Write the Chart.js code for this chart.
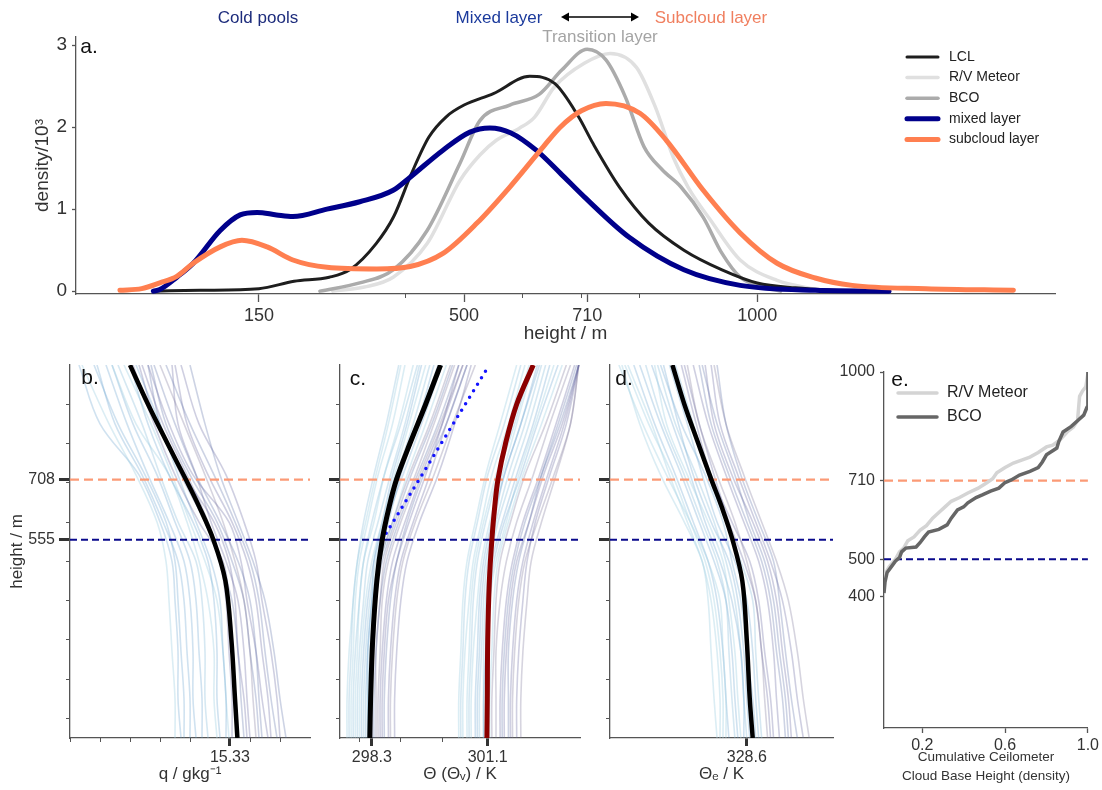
<!DOCTYPE html>
<html lang="en">
<head>
<meta charset="UTF-8">
<title>Cloud base and boundary layer heights</title>
<script src="https://cdn.jsdelivr.net/npm/chart.js"></script>
<style>
  body { margin: 0; background: #fff; font-family: 'Liberation Sans', Arial, sans-serif; }
  #figure { position: relative; width: 1102px; height: 790px; overflow: hidden; background: #fff; }
  #figure canvas { position: absolute; }
  .note { position: absolute; font-size: 17px; white-space: nowrap; transform: translate(-50%, -50%); z-index: 5; }
  .tag { position: absolute; font-size: 21px; color: #111; transform: translate(-50%, -50%); z-index: 5; }
  #arrow { position: absolute; left: 558px; top: 9px; z-index: 5; }
</style>
</head>
<body>
<div id="figure">
  <canvas id="densityChart" width="1102" height="345" style="left:0;top:0"></canvas>
  <canvas id="qChart" width="325" height="450" style="left:0;top:340px"></canvas>
  <canvas id="thetaChart" width="325" height="450" style="left:270px;top:340px"></canvas>
  <canvas id="thetaEChart" width="310" height="450" style="left:540px;top:340px"></canvas>
  <canvas id="cbhChart" width="288" height="450" style="left:814px;top:340px"></canvas>

  <div class="note" style="left:258px;top:18px;color:#1d2c7c">Cold pools</div>
  <div class="note" style="left:499px;top:18px;color:#1b3a9c">Mixed layer</div>
  <svg id="arrow" width="84" height="16">
    <line x1="6" y1="8" x2="78" y2="8" stroke="#000" stroke-width="1.5"/>
    <polygon points="3,8 11,3.5 11,12.5" fill="#000"/>
    <polygon points="81,8 73,3.5 73,12.5" fill="#000"/>
  </svg>
  <div class="note" style="left:711px;top:18px;color:#f07f5f">Subcloud layer</div>
  <div class="note" style="left:600px;top:37px;color:#a4a4a4">Transition layer</div>

  <div class="tag" style="left:89px;top:46px">a.</div>
  <div class="tag" style="left:90px;top:377px">b.</div>
  <div class="tag" style="left:358px;top:378px">c.</div>
  <div class="tag" style="left:624px;top:378px">d.</div>
  <div class="tag" style="left:900px;top:379px">e.</div>
</div>

<script>
const FONT = "'Liberation Sans', Arial, sans-serif";
Chart.defaults.font.family = FONT;
Chart.defaults.color = '#333';

// ---------- a. density of LCL / cloud base / layer tops (heights in m, density x 1e3)
const lclHeight     = [-30, 50, 150, 210, 270, 305, 350, 380, 410, 440, 470, 500, 550, 612, 655, 695, 720, 765, 815, 875, 940, 1000, 1065, 1160];
const lclDensity    = [0, 0.01, 0.03, 0.12, 0.17, 0.26, 0.58, 0.91, 1.43, 1.88, 2.13, 2.27, 2.41, 2.62, 2.53, 2.13, 1.8, 1.27, 0.83, 0.5, 0.26, 0.1, 0.04, 0.0];
const meteorHeight  = [276, 330, 379, 437, 493, 527, 555, 595, 620, 654, 705, 749, 794, 826, 857, 882, 920, 971, 1034, 1100];
const meteorDensity = [0, 0.05, 0.17, 0.58, 1.35, 1.66, 1.84, 1.99, 2.12, 2.49, 2.78, 2.9, 2.73, 2.25, 1.63, 1.27, 0.87, 0.38, 0.13, 0.02];
const bcoHeight     = [254, 322, 379, 437, 493, 527, 578, 628, 667, 710, 742, 775, 807, 838, 870, 908, 940, 971, 1010, 1040];
const bcoDensity    = [0, 0.1, 0.26, 0.74, 1.56, 2.08, 2.27, 2.4, 2.7, 2.95, 2.82, 2.37, 1.76, 1.48, 1.27, 0.9, 0.46, 0.17, 0.05, 0];
const mixedHeight   = [-30, -19, 10, 38, 84, 118, 147, 180, 208, 266, 322, 379, 408, 464, 510, 544, 580, 623, 664, 705, 781, 875, 971, 1099, 1225];
const mixedDensity  = [0, 0.02, 0.17, 0.34, 0.74, 0.93, 0.96, 0.93, 0.91, 1.0, 1.09, 1.23, 1.39, 1.72, 1.94, 1.99, 1.93, 1.72, 1.44, 1.15, 0.66, 0.26, 0.07, 0.01, 0];
const subHeight     = [-87, -50, -19, 10, 38, 84, 121, 164, 208, 266, 351, 408, 464, 522, 578, 635, 664, 700, 742, 800, 845, 908, 971, 1034, 1099, 1162, 1288, 1437];
const subDensity    = [0.01, 0.03, 0.1, 0.18, 0.34, 0.54, 0.62, 0.54, 0.38, 0.29, 0.27, 0.3, 0.46, 0.83, 1.27, 1.76, 2.0, 2.2, 2.29, 2.17, 1.84, 1.23, 0.71, 0.34, 0.16, 0.07, 0.03, 0.01];
const heightTicks   = [150, 500, 710, 1000];
const heightMinor   = [400, 600, 700, 800];
const densityTicks  = [0, 1, 2, 3];

// ---------- b.-d. sounding profiles
const SUBCLOUD_TOP = 708;
const MIXED_TOP = 555;
const profileHeight = [50, 150, 270, 400, 500, 600, 720, 850, 1000];
const meanHeight = [50, 150, 300, 450, 555, 640, 710, 800, 900, 1000];
const heightMinorTicks = [100, 200, 300, 400, 500, 600, 700, 800, 900];

const qMean = [15.58, 15.5, 15.38, 15.18, 14.78, 14.3, 13.85, 13.25, 12.6, 12.0];
const qProfiles = [
  [14.6, 14.5, 14.5, 14.4, 14.2, 13.6, 13.0, 12.4, 11.6],
  [15.0, 14.9, 14.9, 14.8, 14.6, 14.1, 13.3, 12.6, 12.0],
  [16.4, 16.3, 16.2, 16.0, 15.6, 15.0, 14.2, 13.5, 12.8],
  [15.4, 15.4, 15.3, 15.2, 15.0, 14.6, 13.9, 13.1, 12.4],
  [13.8, 13.8, 13.7, 13.6, 13.5, 13.2, 12.5, 11.6, 10.8],
  [16.9, 16.7, 16.5, 16.3, 16.0, 15.5, 14.8, 14.0, 13.2],
  [15.9, 15.8, 15.6, 15.5, 15.3, 14.8, 13.8, 12.9, 12.3],
  [14.2, 14.1, 14.1, 14.0, 13.8, 13.3, 12.6, 11.9, 11.2],
  [17.2, 17.0, 16.8, 16.5, 16.1, 15.6, 15.0, 14.5, 14.0],
  [15.6, 15.5, 15.4, 15.3, 15.1, 14.3, 13.5, 12.8, 12.1],
  [16.2, 16.1, 16.0, 15.8, 15.5, 15.1, 14.5, 13.8, 13.0],
  [14.9, 14.8, 14.8, 14.6, 14.3, 13.9, 13.3, 12.2, 11.4],
  [16.6, 16.4, 16.2, 15.9, 15.7, 15.3, 14.1, 13.3, 12.6],
  [15.2, 15.2, 15.1, 15.0, 14.7, 14.2, 13.6, 13.0, 12.2],
  [13.5, 13.5, 13.4, 13.3, 13.2, 12.9, 12.2, 11.3, 10.4],
  [16.0, 15.9, 15.8, 15.6, 15.2, 14.7, 14.2, 13.6, 13.4],
  [14.0, 14.0, 13.9, 13.8, 13.6, 13.1, 12.4, 11.5, 10.9],
  [15.8, 15.7, 15.6, 15.4, 15.0, 14.5, 13.7, 13.0, 12.6],
  [16.7, 16.6, 16.4, 16.2, 15.9, 15.4, 14.6, 13.9, 13.5],
  [14.4, 14.4, 14.3, 14.2, 14.0, 13.5, 12.9, 12.1, 11.4],
  [15.3, 15.2, 15.1, 14.9, 14.5, 14.0, 13.4, 12.7, 11.8],
  [17.0, 16.9, 16.7, 16.4, 16.2, 15.8, 15.2, 14.3, 13.7],
  [13.7, 13.6, 13.6, 13.5, 13.4, 13.0, 12.3, 11.0, 10.3],
  [16.3, 16.2, 16.0, 15.8, 15.4, 14.9, 14.0, 13.2, 12.7]
];

const thetaMean = [298.25, 298.27, 298.32, 298.42, 298.55, 298.72, 298.9, 299.22, 299.6, 299.96];
const thetaVMean = [301.08, 301.09, 301.1, 301.14, 301.2, 301.27, 301.35, 301.53, 301.8, 302.2];
const adiabatTheta = [298.55, 301.08];
const adiabatHeight = [555, 990];
const thetaProfiles = [
  [298.1, 298.1, 298.15, 298.25, 298.4, 298.6, 298.9, 299.3, 299.7],
  [298.3, 298.3, 298.35, 298.4, 298.5, 298.8, 299.2, 299.7, 300.2],
  [297.9, 297.9, 297.95, 298.0, 298.1, 298.35, 298.6, 298.95, 299.3],
  [298.5, 298.5, 298.55, 298.65, 298.8, 299.1, 299.5, 300.0, 300.5],
  [298.2, 298.2, 298.2, 298.3, 298.45, 298.7, 299.0, 299.4, 299.8],
  [297.8, 297.8, 297.85, 297.9, 298.0, 298.2, 298.45, 298.8, 299.1],
  [298.7, 298.7, 298.75, 298.85, 299.0, 299.3, 299.7, 300.1, 300.6],
  [298.4, 298.4, 298.4, 298.5, 298.6, 298.9, 299.35, 299.8, 300.3],
  [298.0, 298.0, 298.05, 298.15, 298.3, 298.55, 298.85, 299.2, 299.6],
  [298.85, 298.85, 298.9, 299.0, 299.15, 299.45, 299.9, 300.3, 300.7],
  [298.25, 298.25, 298.3, 298.35, 298.45, 298.65, 299.05, 299.5, 300.0],
  [297.7, 297.7, 297.75, 297.85, 297.95, 298.15, 298.4, 298.7, 299.0],
  [298.55, 298.55, 298.6, 298.7, 298.9, 299.2, 299.6, 300.0, 300.4],
  [298.15, 298.15, 298.2, 298.3, 298.35, 298.55, 298.8, 299.15, 299.5],
  [298.35, 298.35, 298.4, 298.5, 298.65, 298.95, 299.4, 299.9, 300.4],
  [297.95, 297.95, 298.0, 298.1, 298.2, 298.45, 298.75, 299.1, 299.45],
  [298.05, 298.05, 298.1, 298.2, 298.35, 298.6, 298.95, 299.4, 299.9],
  [298.6, 298.6, 298.65, 298.75, 298.9, 299.15, 299.55, 300.1, 300.6],
  [297.85, 297.85, 297.9, 298.0, 298.1, 298.3, 298.6, 299.0, 299.4],
  [298.45, 298.45, 298.5, 298.55, 298.7, 299.0, 299.45, 299.95, 300.5],
  [298.2, 298.2, 298.25, 298.35, 298.5, 298.8, 299.15, 299.6, 300.1],
  [297.75, 297.75, 297.8, 297.85, 297.95, 298.1, 298.35, 298.65, 298.95],
  [298.75, 298.75, 298.8, 298.9, 299.05, 299.35, 299.8, 300.25, 300.8],
  [298.3, 298.3, 298.3, 298.4, 298.55, 298.85, 299.25, 299.75, 300.25]
];
const thetaVProfiles = [
  [300.9, 300.9, 300.95, 301.0, 301.1, 301.3, 301.6, 302.0, 302.4],
  [301.2, 301.2, 301.25, 301.3, 301.4, 301.65, 302.0, 302.5, 303.0],
  [300.5, 300.5, 300.55, 300.65, 300.75, 300.95, 301.2, 301.6, 302.0],
  [301.5, 301.5, 301.55, 301.65, 301.8, 302.1, 302.45, 302.9, 303.3],
  [301.0, 301.0, 301.05, 301.1, 301.2, 301.45, 301.8, 302.2, 302.6],
  [300.4, 300.4, 300.45, 300.5, 300.6, 300.8, 301.05, 301.4, 301.8],
  [301.8, 301.8, 301.85, 301.95, 302.05, 302.25, 302.6, 303.0, 303.3],
  [301.3, 301.3, 301.3, 301.4, 301.55, 301.8, 302.2, 302.6, 303.1],
  [300.7, 300.7, 300.75, 300.85, 300.95, 301.15, 301.45, 301.8, 302.2],
  [301.65, 301.65, 301.7, 301.8, 301.95, 302.2, 302.55, 302.95, 303.3],
  [301.1, 301.1, 301.1, 301.15, 301.25, 301.5, 301.9, 302.3, 302.8],
  [300.6, 300.6, 300.65, 300.7, 300.8, 301.0, 301.3, 301.7, 302.1],
  [301.4, 301.4, 301.45, 301.55, 301.7, 301.95, 302.35, 302.75, 303.2],
  [300.85, 300.85, 300.9, 300.95, 301.05, 301.25, 301.5, 301.9, 302.3],
  [301.6, 301.6, 301.6, 301.7, 301.85, 302.1, 302.4, 302.8, 303.25],
  [301.0, 301.0, 301.0, 301.05, 301.15, 301.35, 301.7, 302.1, 302.5],
  [300.8, 300.8, 300.85, 300.9, 301.0, 301.2, 301.5, 301.9, 302.35],
  [301.45, 301.45, 301.5, 301.6, 301.75, 302.0, 302.4, 302.85, 303.3],
  [300.45, 300.45, 300.5, 300.55, 300.65, 300.85, 301.1, 301.5, 301.9],
  [301.7, 301.7, 301.75, 301.85, 302.0, 302.3, 302.7, 303.1, 303.3],
  [301.15, 301.15, 301.2, 301.25, 301.35, 301.6, 301.95, 302.4, 302.9],
  [300.65, 300.65, 300.7, 300.75, 300.85, 301.05, 301.35, 301.75, 302.15],
  [301.9, 301.9, 301.95, 302.05, 302.15, 302.4, 302.75, 303.1, 303.3],
  [301.05, 301.05, 301.1, 301.15, 301.3, 301.55, 301.85, 302.25, 302.7]
];

const thetaEMean = [328.8, 328.7, 328.6, 328.45, 328.12, 327.75, 327.4, 326.97, 326.5, 326.1];
const thetaEProfiles = [
  [328.2, 328.1, 328.0, 327.9, 327.6, 327.1, 326.5, 325.8, 325.2],
  [329.3, 329.2, 329.1, 328.9, 328.6, 328.2, 327.6, 327.0, 326.6],
  [327.7, 327.7, 327.6, 327.4, 327.1, 326.6, 326.0, 325.4, 324.6],
  [330.1, 330.0, 329.8, 329.6, 329.3, 328.8, 328.1, 327.5, 327.2],
  [328.7, 328.6, 328.5, 328.3, 328.0, 327.4, 326.8, 326.3, 325.8],
  [327.9, 327.9, 327.8, 327.7, 327.3, 326.7, 325.9, 325.1, 324.3],
  [330.5, 330.3, 330.1, 329.8, 329.4, 328.9, 328.3, 327.7, 327.4],
  [329.0, 328.9, 328.8, 328.6, 328.2, 327.6, 327.1, 326.6, 326.0],
  [328.4, 328.3, 328.2, 328.0, 327.8, 327.3, 326.6, 325.9, 325.5],
  [329.7, 329.6, 329.5, 329.3, 329.0, 328.5, 327.9, 327.3, 326.8],
  [328.9, 328.8, 328.6, 328.4, 328.1, 327.8, 327.2, 326.4, 325.7],
  [327.6, 327.5, 327.4, 327.3, 327.1, 326.5, 325.7, 325.0, 324.4],
  [329.5, 329.4, 329.2, 329.0, 328.7, 328.1, 327.4, 326.9, 326.4],
  [328.5, 328.5, 328.4, 328.1, 327.7, 327.2, 326.7, 326.1, 325.4],
  [330.3, 330.1, 329.9, 329.7, 329.5, 329.0, 328.4, 327.9, 327.6],
  [329.1, 329.0, 328.9, 328.8, 328.4, 327.9, 327.3, 326.8, 326.2],
  [328.0, 327.9, 327.8, 327.6, 327.3, 326.8, 326.2, 325.5, 324.8],
  [329.9, 329.8, 329.6, 329.4, 329.1, 328.6, 328.0, 327.4, 327.0],
  [328.6, 328.5, 328.4, 328.2, 327.9, 327.5, 326.9, 326.2, 325.6],
  [330.7, 330.5, 330.3, 330.0, 329.6, 329.1, 328.5, 327.9, 327.5],
  [327.8, 327.8, 327.7, 327.5, 327.2, 326.7, 326.1, 325.3, 324.5],
  [329.4, 329.3, 329.1, 328.9, 328.5, 328.0, 327.5, 327.0, 326.5],
  [328.3, 328.2, 328.1, 327.9, 327.5, 327.0, 326.4, 325.7, 325.0],
  [330.0, 329.9, 329.7, 329.5, 329.2, 328.7, 328.2, 327.6, 327.1]
];

// ---------- e. cumulative ceilometer cloud base height
const bcoCum     = [0.015, 0.02, 0.03, 0.05, 0.07, 0.09, 0.10, 0.12, 0.17, 0.19, 0.21, 0.23, 0.28, 0.32, 0.34, 0.37, 0.40, 0.42, 0.46, 0.49, 0.53, 0.57, 0.60, 0.63, 0.67, 0.72, 0.76, 0.78, 0.80, 0.83, 0.85, 0.86, 0.88, 0.92, 0.95, 0.98, 0.995, 1.0, 1.0];
const bcoCbh     = [410, 440, 465, 480, 495, 505, 520, 530, 533, 545, 560, 573, 580, 592, 610, 632, 640, 651, 665, 672, 682, 690, 705, 712, 725, 735, 745, 760, 779, 790, 797, 815, 840, 855, 870, 885, 905, 910, 1000];
const meteorCum  = [0.015, 0.02, 0.04, 0.07, 0.09, 0.11, 0.13, 0.16, 0.19, 0.22, 0.25, 0.28, 0.31, 0.34, 0.38, 0.42, 0.47, 0.51, 0.54, 0.56, 0.60, 0.64, 0.68, 0.72, 0.76, 0.80, 0.83, 0.865, 0.90, 0.93, 0.95, 0.96, 0.975, 0.99, 1.0];
const meteorCbh  = [430, 460, 480, 500, 520, 530, 550, 560, 578, 590, 610, 625, 640, 655, 665, 677, 690, 704, 715, 731, 745, 757, 765, 773, 785, 800, 805, 819, 840, 853, 870, 935, 950, 960, 995];
const cbhTicks   = [400, 500, 710, 1000];
const cumTicks   = [0.2, 0.6, 1.0];
const CBH_SUBCLOUD = 710;
const CBH_MIXED = 500;

// ---------- helpers
const NAVY = '#00008b';
const CORAL = '#ff7f50';
const DASH_ORANGE = '#fb9a76';
const DASH_NAVY = '#0a0a8c';
const AXIS = '#555';

const pts = (xs, ys) => xs.map((x, i) => ({ x, y: ys[i] }));

// legend drawn as line + text rows from the labelled datasets
const lineLegend = {
  id: 'lineLegend',
  afterDraw(chart, args, o) {
    if (!o || !o.display) return;
    const ctx = chart.ctx;
    ctx.save();
    ctx.font = o.size + 'px ' + FONT;
    ctx.textBaseline = 'middle';
    ctx.lineCap = 'round';
    let row = 0;
    chart.data.datasets.forEach(ds => {
      if (!ds.label) return;
      const y = o.y + row * o.gap;
      ctx.strokeStyle = ds.borderColor;
      ctx.lineWidth = ds.borderWidth;
      ctx.beginPath();
      ctx.moveTo(o.x, y);
      ctx.lineTo(o.x + o.len, y);
      ctx.stroke();
      ctx.fillStyle = '#222';
      ctx.fillText(ds.label, o.x + o.len + o.space, y);
      row++;
    });
    ctx.restore();
  }
};

// main axis: labelled ticks with long marks
function mainAxis(pos, min, max, values, fmt, size, tick, extra) {
  return Object.assign({
    type: 'linear', position: pos, min, max, weight: 1,
    afterBuildTicks: s => { s.ticks = values.map(v => ({ value: v })); },
    ticks: { autoSkip: false, maxRotation: 0, padding: tick.pad, font: { size }, color: '#333', callback: fmt },
    grid: { drawOnChartArea: false, tickLength: tick.len, tickWidth: tick.width, tickColor: tick.color },
    border: { color: AXIS, width: 1.3 }
  }, extra);
}

// companion axis carrying only the short unlabelled ticks
function minorAxis(pos, min, max, values) {
  const horiz = pos === 'bottom';
  return {
    type: 'linear', position: pos, min, max, weight: 0,
    afterFit: s => { if (horiz) s.height = 0; else s.width = 0; },
    afterBuildTicks: s => { s.ticks = values.map(v => ({ value: v })); },
    ticks: { display: false },
    grid: { drawOnChartArea: false, tickLength: 4, tickWidth: 1, tickColor: AXIS },
    border: { display: false }
  };
}

const BLUES = ['rgba(140,192,218,0.36)', 'rgba(100,160,205,0.3)', 'rgba(165,210,228,0.4)'];
const SLATES = ['rgba(95,95,155,0.3)', 'rgba(120,112,150,0.3)', 'rgba(90,108,165,0.3)'];

function faintSets(profiles) {
  const base = profiles.map(p => p[0]);
  const lo = Math.min(...base), hi = Math.max(...base);
  return profiles.map((p, i) => {
    const t = (p[0] - lo) / (hi - lo);
    return {
      data: pts(p, profileHeight),
      borderColor: t > 0.5 ? SLATES[i % 3] : BLUES[i % 3],
      borderWidth: 1.6, tension: 0.35, order: 3
    };
  });
}

function levelLine(value, min, max, color, width, dash) {
  return {
    data: [{ x: min, y: value }, { x: max, y: value }],
    borderColor: color, borderWidth: width, borderDash: dash, tension: 0, order: 1
  };
}

function profileChart(id, o) {
  const yMajor = [MIXED_TOP, SUBCLOUD_TOP];
  return new Chart(document.getElementById(id), {
    type: 'line',
    data: { datasets: o.datasets },
    options: {
      responsive: false, animation: false, devicePixelRatio: 1,
      layout: { padding: { left: 0, top: 25, right: o.padRight, bottom: 0 } },
      elements: { point: { radius: 0 }, line: { fill: false, borderCapStyle: 'butt' } },
      plugins: { legend: { display: false }, tooltip: { enabled: false } },
      scales: {
        x: mainAxis('bottom', o.xMin, o.xMax, o.xMajor, o.xFmt, 16,
          { len: 8, pad: 2, width: 3, color: '#333' },
          {
            afterFit: s => { s.height = 52; },
            title: { display: true, text: o.xTitle, font: { size: 17 }, color: '#333', padding: { top: 0, bottom: 5 } }
          }),
        xMinor: minorAxis('bottom', o.xMin, o.xMax, o.xMinor),
        y: mainAxis('left', 50, 1000, yMajor, v => (o.yLabels ? String(v) : ''), 16,
          { len: 11, pad: 4, width: 3, color: '#333' },
          {
            afterFit: s => { s.width = 70; },
            title: { display: o.yLabels, text: 'height / m', font: { size: 17 }, color: '#333', padding: { top: 7 } }
          }),
        yMinor: minorAxis('left', 50, 1000, heightMinorTicks)
      }
    }
  });
}

// ---------- a.
new Chart(document.getElementById('densityChart'), {
  type: 'line',
  data: {
    datasets: [
      { label: 'LCL', data: pts(lclHeight, lclDensity), borderColor: '#1e1e1e', borderWidth: 3, order: 2 },
      { label: 'R/V Meteor', data: pts(meteorHeight, meteorDensity), borderColor: '#e0e0e0', borderWidth: 3.5, order: 4 },
      { label: 'BCO', data: pts(bcoHeight, bcoDensity), borderColor: '#ababab', borderWidth: 3.5, order: 3 },
      { label: 'mixed layer', data: pts(mixedHeight, mixedDensity), borderColor: NAVY, borderWidth: 5, order: 1 },
      { label: 'subcloud layer', data: pts(subHeight, subDensity), borderColor: CORAL, borderWidth: 5, order: 0 }
    ]
  },
  options: {
    responsive: false, animation: false, devicePixelRatio: 1,
    layout: { padding: { left: 0, top: 37, right: 47, bottom: 0 } },
    elements: { point: { radius: 0 }, line: { fill: false, cubicInterpolationMode: 'monotone', borderCapStyle: 'round' } },
    plugins: {
      legend: { display: false }, tooltip: { enabled: false },
      lineLegend: { display: true, x: 907, y: 57, gap: 20.6, len: 31, space: 11, size: 14 }
    },
    scales: {
      x: mainAxis('bottom', -162, 1508, heightTicks, v => String(v), 18,
        { len: 8, pad: 3, width: 1.3, color: AXIS },
        {
          afterFit: s => { s.height = 51; },
          title: { display: true, text: 'height / m', font: { size: 19 }, color: '#333', padding: { top: 0, bottom: 0 } }
        }),
      xMinor: minorAxis('bottom', -162, 1508, heightMinor),
      y: mainAxis('left', -0.035, 3.1, densityTicks, v => String(v), 19,
        { len: 4, pad: 5, width: 1.3, color: AXIS },
        {
          afterFit: s => { s.width = 76; },
          title: { display: true, text: 'density/10³', font: { size: 19 }, color: '#333', padding: { top: 31 } }
        })
    }
  },
  plugins: [lineLegend]
});

// ---------- b. specific humidity
const Q_MIN = 10, Q_MAX = 18;
profileChart('qChart', {
  xMin: Q_MIN, xMax: Q_MAX, xMajor: [15.33], xMinor: [10, 11, 12, 13, 14, 16, 17],
  xFmt: v => v.toFixed(2), xTitle: 'q / gkg⁻¹', yLabels: true, padRight: 15,
  datasets: [
    { data: pts(qMean, meanHeight), borderColor: '#000', borderWidth: 4.5, tension: 0.35, order: 0 },
    levelLine(SUBCLOUD_TOP, Q_MIN, Q_MAX, DASH_ORANGE, 2.2, [9, 5]),
    levelLine(MIXED_TOP, Q_MIN, Q_MAX, DASH_NAVY, 2, [7, 4]),
    ...faintSets(qProfiles)
  ]
});

// ---------- c. potential and virtual potential temperature
const TH_MIN = 297.53, TH_MAX = 303.33;
profileChart('thetaChart', {
  xMin: TH_MIN, xMax: TH_MAX, xMajor: [298.3, 301.1], xMinor: [298, 299, 300],
  xFmt: v => v.toFixed(1), xTitle: 'Θ (Θᵥ) / K', yLabels: false, padRight: 15,
  datasets: [
    { data: pts(thetaMean, meanHeight), borderColor: '#000', borderWidth: 5, tension: 0.35, order: 0 },
    { data: pts(thetaVMean, meanHeight), borderColor: '#8b0000', borderWidth: 5, tension: 0.35, order: 0 },
    { data: pts(adiabatTheta, adiabatHeight), borderColor: '#1414ff', borderWidth: 3.5, borderDash: [0, 7.6], borderCapStyle: 'round', tension: 0, order: 0 },
    levelLine(SUBCLOUD_TOP, TH_MIN, TH_MAX, DASH_ORANGE, 2.2, [9, 5]),
    levelLine(MIXED_TOP, TH_MIN, TH_MAX, DASH_NAVY, 2, [7, 4]),
    ...faintSets(thetaProfiles),
    ...faintSets(thetaVProfiles)
  ]
});

// ---------- d. equivalent potential temperature
const TE_MIN = 324, TE_MAX = 331.5;
profileChart('thetaEChart', {
  xMin: TE_MIN, xMax: TE_MAX, xMajor: [328.6], xMinor: [],
  xFmt: v => v.toFixed(1), xTitle: 'Θₑ / K', yLabels: false, padRight: 17,
  datasets: [
    { data: pts(thetaEMean, meanHeight), borderColor: '#000', borderWidth: 4.5, tension: 0.35, order: 0 },
    levelLine(SUBCLOUD_TOP, TE_MIN, TE_MAX, DASH_ORANGE, 2.2, [9, 5]),
    levelLine(MIXED_TOP, TE_MIN, TE_MAX, DASH_NAVY, 2, [7, 4]),
    ...faintSets(thetaEProfiles)
  ]
});

// ---------- e. cumulative cloud base height
const CUM_MIN = 0.015, CUM_MAX = 1.0;
new Chart(document.getElementById('cbhChart'), {
  type: 'line',
  data: {
    datasets: [
      { label: 'R/V Meteor', data: pts(meteorCum, meteorCbh), borderColor: '#d4d4d4', borderWidth: 3.5, order: 1 },
      { label: 'BCO', data: pts(bcoCum, bcoCbh), borderColor: '#666', borderWidth: 3.5, order: 0 },
      levelLine(CBH_SUBCLOUD, CUM_MIN, CUM_MAX, DASH_ORANGE, 2.2, [9, 5]),
      levelLine(CBH_MIXED, CUM_MIN, CUM_MAX, DASH_NAVY, 2, [7, 4])
    ]
  },
  options: {
    responsive: false, animation: false, devicePixelRatio: 1,
    layout: { padding: { left: 0, top: 32, right: 14, bottom: 0 } },
    elements: { point: { radius: 0 }, line: { fill: false, tension: 0 } },
    plugins: {
      legend: { display: false }, tooltip: { enabled: false },
      lineLegend: { display: true, x: 84, y: 53, gap: 24, len: 39, space: 10, size: 16 }
    },
    scales: {
      x: mainAxis('bottom', CUM_MIN, CUM_MAX, cumTicks, v => v.toFixed(1), 16,
        { len: 5, pad: 3, width: 1.3, color: AXIS },
        {
          afterFit: s => { s.height = 62; },
          title: {
            display: true, text: ['Cumulative Ceilometer', 'Cloud Base Height (density)'],
            font: { size: 13.5, lineHeight: 1.4 }, color: '#333', padding: { top: 0, bottom: 4 }
          }
        }),
      y: mainAxis('left', 50, 1000, cbhTicks, v => String(v), 16,
        { len: 4, pad: 5, width: 1.3, color: AXIS },
        { afterFit: s => { s.width = 70; } })
    }
  },
  plugins: [lineLegend]
});
</script>
</body>
</html>
